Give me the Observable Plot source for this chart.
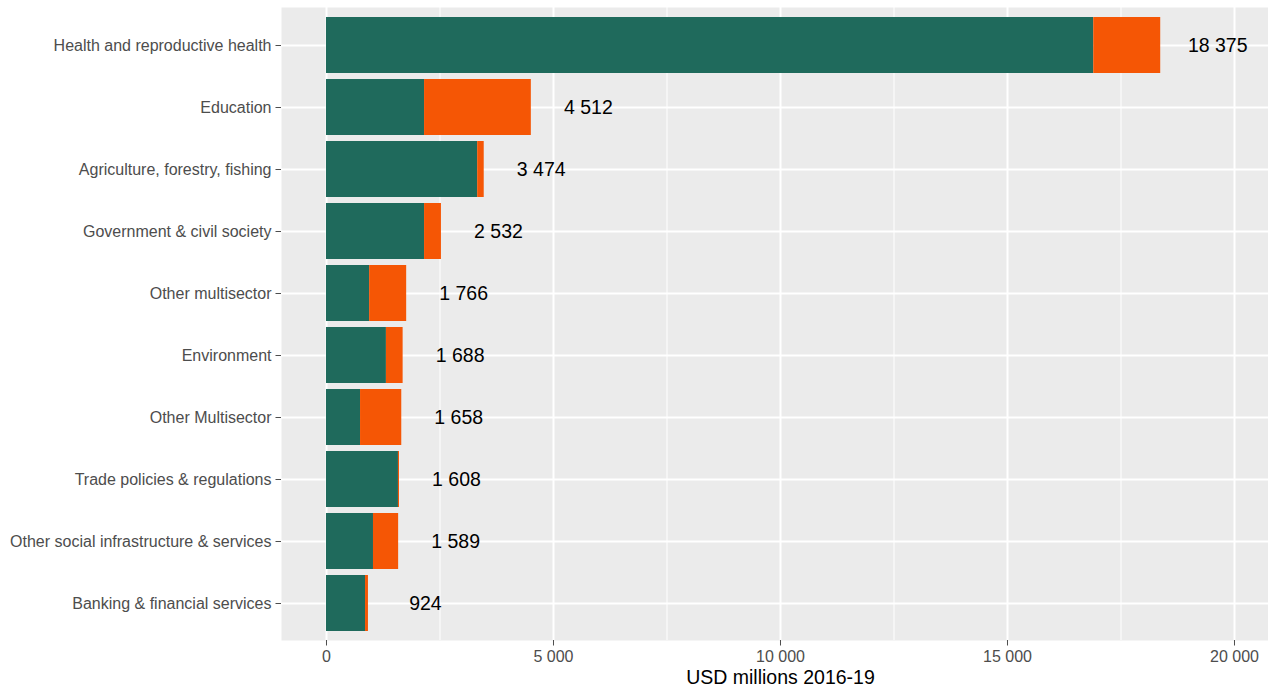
<!DOCTYPE html>
<html><head><meta charset="utf-8">
<script src="https://cdn.jsdelivr.net/npm/d3@7"></script>
<script src="https://cdn.jsdelivr.net/npm/@observablehq/plot@0.6"></script>
<style>
body{margin:0;background:#fff;}
svg{display:block;}
</style>
</head><body><div id="chart"></div>
<script>
const sectors = [
  "Health and reproductive health",
  "Education",
  "Agriculture, forestry, fishing",
  "Government & civil society",
  "Other multisector",
  "Environment",
  "Other Multisector",
  "Trade policies & regulations",
  "Other social infrastructure & services",
  "Banking & financial services"
];
const greenValues  = [16900, 2160, 3330, 2160, 950, 1320, 750, 1585, 1035, 860];
const orangeValues = [1475, 2352, 144, 372, 816, 368, 908, 23, 554, 64];
const totals       = [18375, 4512, 3474, 2532, 1766, 1688, 1658, 1608, 1589, 924];
const seriesNames = ["Series 1", "Series 2"];
const xTicks = [0, 5000, 10000, 15000, 20000];
const minorTicks = [2500, 7500, 12500, 17500];
const axisTitle = "USD millions 2016-19";

const rows = [];
sectors.forEach((s, i) => {
  rows.push({sector: s, series: seriesNames[0], value: greenValues[i]});
  rows.push({sector: s, series: seriesNames[1], value: orangeValues[i]});
});
const labels = sectors.map((s, i) => ({sector: s, total: totals[i]}));
const fmt = v => d3.format(",")(v).replace(/,/g, " ");

const chart = Plot.plot({
  width: 1268, height: 687,
  marginTop: 7, marginBottom: 47, marginLeft: 281, marginRight: 0,
  style: {fontFamily: "'Liberation Sans', Arial, sans-serif", background: "#fff", overflow: "visible"},
  x: {domain: [-991, 20749]},
  y: {domain: sectors, paddingInner: 0.1, paddingOuter: 0.15},
  color: {domain: seriesNames, range: ["#1F6A5C", "#F55605"]},
  marks: [
    Plot.frame({fill: "#EBEBEB", stroke: null}),
    Plot.gridX({ticks: minorTicks, stroke: "#fff", strokeOpacity: 1, strokeWidth: 1}),
    Plot.gridX({ticks: xTicks, stroke: "#fff", strokeOpacity: 1, strokeWidth: 2}),
    Plot.gridY({stroke: "#fff", strokeOpacity: 1, strokeWidth: 2}),
    Plot.barX(rows, {x: "value", y: "sector", fill: "series"}),
    Plot.text(labels, {x: "total", y: "sector", text: d => fmt(d.total), dx: 57, fontSize: 19.5, fill: "#000"}),
    Plot.axisY({tickSize: 5.5, tickPadding: 4.5, fontSize: 16, color: "#4D4D4D", label: null}),
    Plot.axisX({ticks: xTicks, tickFormat: fmt, tickSize: 5.5, tickPadding: 5, fontSize: 16, color: "#4D4D4D", label: null}),
    Plot.text([axisTitle], {frameAnchor: "bottom", dy: 43, dx: 5.5, fontSize: 19.5, fill: "#000"})
  ]
});
document.getElementById("chart").appendChild(chart);
</script>
</body></html>
